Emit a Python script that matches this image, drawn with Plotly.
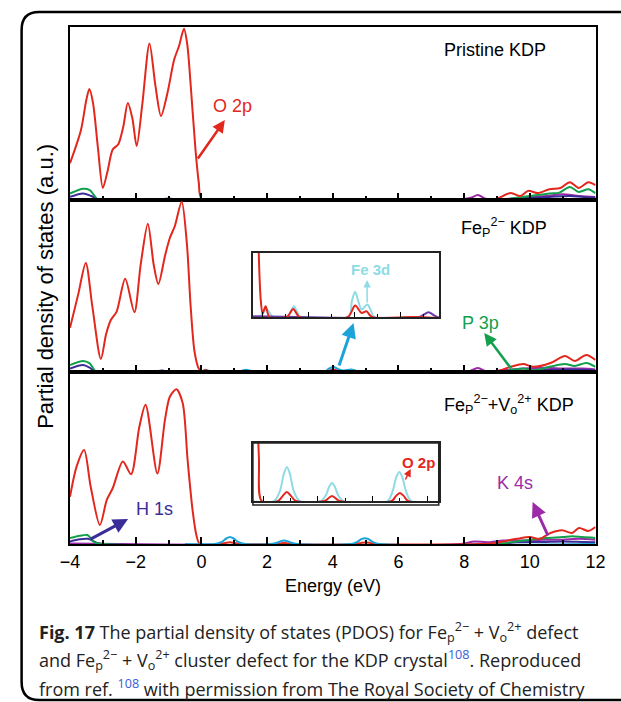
import plotly.graph_objects as go

W, H = 621, 702
def px(x): return x / W
def py(y): return 1 - y / H

RED = "#e2271d"; GREEN = "#12a04c"; INDIGO = "#3b2d98"; PURPLE = "#9c2aa8"
CYAN = "#1ca3da"; CYAN_L = "#8edbe6"

# ---------------- Panel 1: Pristine KDP ----------------
p1_o2p_e = [-4.0, -3.67, -3.5, -3.41, -3.3, -3.15, -3.0, -2.85, -2.70, -2.53, -2.38, -2.24, -2.1, -1.97,
            -1.8, -1.58, -1.4, -1.23, -1.03, -0.83, -0.68, -0.53, -0.43, -0.33, -0.18, -0.08, 0.02,
            2.0, 5.0, 8.8, 9.0, 9.42, 9.71, 9.95, 10.25, 10.6, 10.93, 11.22, 11.49, 11.78, 12.0]
p1_o2p = [0.21, 0.40, 0.58, 0.64, 0.56, 0.30, 0.067, 0.17, 0.29, 0.32, 0.42, 0.56, 0.47, 0.31,
          0.55, 0.905, 0.66, 0.484, 0.62, 0.81, 0.89, 0.99, 0.9, 0.675, 0.29, 0.10, 0.0,
          0.0, 0.0, 0.0, 0.005, 0.038, 0.02, 0.05, 0.037, 0.06, 0.067, 0.10, 0.067, 0.10, 0.084]
p1_p3p_e = [-4.0, -3.6, -3.4, -3.15, -2.9, 9.2, 9.6, 10.0, 10.6, 10.9, 11.22, 11.49, 11.78, 12.0]
p1_p3p = [0.035, 0.062, 0.055, 0.0, 0.0, 0.0, 0.01, 0.02, 0.035, 0.04, 0.073, 0.044, 0.06, 0.037]
p1_h1s_e = [-4.0, -3.6, -3.35, -3.1, -1.3, -1.0, -0.7, 9.5, 10.0, 10.6, 11.2, 11.8, 12.0]
p1_h1s = [0.015, 0.035, 0.02, 0.0, 0.0, 0.006, 0.0, 0.0, 0.01, 0.015, 0.02, 0.012, 0.012]
p1_k4s_e = [-4.0, 7.9, 8.2, 8.42, 8.65, 9.0, 9.5, 10.0, 10.5, 11.0, 11.5, 12.0]
p1_k4s = [0.003, 0.0, 0.01, 0.026, 0.005, 0.0, 0.006, 0.015, 0.02, 0.03, 0.02, 0.015]

# ---------------- Panel 2: Fe_P 2- KDP ----------------
p2_o2p_e = [-4.0, -3.75, -3.52, -3.32, -3.06, -2.9, -2.76, -2.58, -2.32, -2.04, -1.85, -1.63, -1.45,
            -1.31, -1.1, -0.96, -0.81, -0.6, -0.44, -0.33, -0.21, -0.08, 0.0, 0.13, 0.3, 1.05, 1.33,
            1.6, 3.7, 4.02, 4.3, 4.51, 4.75, 6.5, 8.8, 9.0, 9.42, 9.8, 10.1, 10.63, 11.07, 11.37, 11.72, 12.0]
p2_o2p = [0.256, 0.45, 0.632, 0.38, 0.076, 0.22, 0.30, 0.35, 0.54, 0.347, 0.62, 0.86, 0.62,
          0.51, 0.68, 0.777, 0.845, 0.987, 0.74, 0.39, 0.12, 0.02, 0.004, 0.0126, 0.0, 0.0, 0.0094,
          0.0, 0.0, 0.0135, 0.0047, 0.0067, 0.0, 0.0, 0.0, 0.004, 0.03, 0.046, 0.03, 0.052, 0.093, 0.064, 0.099, 0.07]
p2_fe3d_e = [-0.4, -0.13, 0.0, 0.17, 0.32, 0.46, 1.08, 1.22, 1.36, 1.5, 1.64, 3.74, 3.88, 4.02,
             4.16, 4.3, 4.55, 4.7, 4.86, 12.0]
p2_fe3d = [0.0, 0.0, 0.004, 0.0094, 0.004, 0.0, 0.0, 0.006, 0.0126, 0.006, 0.0, 0.0, 0.019, 0.0295,
           0.018, 0.0087, 0.0146, 0.008, 0.0, 0.0]
p2_p3p_e = [-4.0, -3.6, -3.4, -3.2, -2.9, 9.2, 9.4, 9.8, 10.1, 10.6, 11.07, 11.37, 11.72, 12.0]
p2_p3p = [0.04, 0.064, 0.05, 0.0, 0.0, 0.0, 0.01, 0.02, 0.01, 0.03, 0.046, 0.035, 0.052, 0.03]
p2_h1s_e = [-4.0, -3.6, -3.4, -3.2, -1.5, -1.2, -0.9, 9.5, 10.0, 10.6, 11.2, 11.8, 12.0]
p2_h1s = [0.02, 0.04, 0.025, 0.0, 0.0, 0.008, 0.0, 0.0, 0.008, 0.012, 0.015, 0.012, 0.01]
p2_k4s_e = [-4.0, 6.8, 6.95, 7.21, 7.45, 7.6, 8.1, 8.42, 8.7, 9.2, 9.8, 10.5, 11.0, 11.6, 12.0]
p2_k4s = [0.003, 0.0, 0.002, 0.0055, 0.002, 0.0, 0.0, 0.023, 0.0, 0.01, 0.02, 0.025, 0.02, 0.02, 0.015]

# ---------------- Panel 3: Fe_P 2- + V_o 2+ KDP ----------------
p3_o2p_e = [-4.0, -3.8, -3.57, -3.37, -3.09, -2.88, -2.70, -2.39, -2.14, -1.89, -1.70, -1.34, -1.11,
            -0.96, -0.76, -0.57, -0.42, -0.27, -0.15, -0.05, 0.55, 0.72, 0.87, 1.02, 1.2, 2.25, 2.4,
            2.52, 2.64, 2.8, 4.7, 4.86, 5.0, 5.14, 5.3, 8.5, 8.9, 9.6, 10.0, 10.3, 10.63, 10.98, 11.28,
            11.5, 11.78, 12.0]
p3_o2p = [0.275, 0.45, 0.547, 0.333, 0.11, 0.256, 0.324, 0.48, 0.405, 0.68, 0.81, 0.41, 0.72,
          0.856, 0.90, 0.82, 0.49, 0.20, 0.05, 0.0, 0.0, 0.006, 0.0105, 0.006, 0.0, 0.0, 0.0035,
          0.006, 0.0035, 0.0, 0.0, 0.006, 0.0094, 0.006, 0.0, 0.0, 0.005, 0.03, 0.04, 0.03, 0.064, 0.08, 0.064,
          0.093, 0.076, 0.099]
p3_fe3d_e = [-0.5, 0.40, 0.62, 0.76, 0.87, 0.98, 1.12, 1.34, 2.12, 2.3, 2.42, 2.52, 2.62, 2.74, 2.92,
             4.55, 4.73, 4.87, 4.98, 5.09, 5.23, 5.42, 12.0]
p3_fe3d = [0.0, 0.0, 0.012, 0.032, 0.040, 0.032, 0.012, 0.0, 0.0, 0.007, 0.017, 0.021, 0.017, 0.007, 0.0,
           0.0, 0.011, 0.028, 0.034, 0.028, 0.011, 0.0, 0.0]
p3_p3p_e = [-4.0, -3.7, -3.47, -3.25, -3.0, 9.0, 9.6, 10.0, 10.5, 11.0, 11.3, 11.6, 12.0]
p3_p3p = [0.035, 0.048, 0.052, 0.01, 0.0, 0.0, 0.015, 0.025, 0.035, 0.04, 0.045, 0.04, 0.035]
p3_h1s_e = [-4.0, -3.7, -3.45, -3.2, -3.0, 9.0, 9.6, 10.4, 11.0, 11.6, 12.0]
p3_h1s = [0.015, 0.028, 0.03, 0.008, 0.0, 0.0, 0.01, 0.012, 0.015, 0.012, 0.01]
p3_k4s_e = [-4.0, 7.9, 8.3, 8.7, 9.2, 9.8, 10.4, 11.0, 11.5, 12.0]
p3_k4s = [0.003, 0.0, 0.015, 0.01, 0.02, 0.02, 0.025, 0.025, 0.03, 0.025]

panel_titles = ["Pristine KDP",
                "Fe<sub>P</sub><sup>2−</sup> KDP",
                "Fe<sub>P</sub><sup>2−</sup>+V<sub>o</sub><sup>2+</sup> KDP"]
x_ticks = [-4, -2, 0, 2, 4, 6, 8, 10, 12]

FONT = "Liberation Sans, Arial, sans-serif"
fig = go.Figure()

def add(xa, ya, e, v, color, width=2.0):
    fig.add_trace(go.Scatter(x=e, y=v, mode="lines", xaxis=xa, yaxis=ya,
                             line=dict(color=color, width=width, shape="spline", smoothing=0.8),
                             hoverinfo="skip", showlegend=False))

# main panels
add("x", "y", p1_k4s_e, p1_k4s, PURPLE)
add("x", "y", p1_h1s_e, p1_h1s, INDIGO)
add("x", "y", p1_p3p_e, p1_p3p, GREEN)
add("x", "y", p1_o2p_e, p1_o2p, RED)

add("x2", "y2", p2_k4s_e, p2_k4s, PURPLE)
add("x2", "y2", p2_h1s_e, p2_h1s, INDIGO)
add("x2", "y2", p2_p3p_e, p2_p3p, GREEN)
add("x2", "y2", p2_o2p_e, p2_o2p, RED)
add("x2", "y2", p2_fe3d_e, p2_fe3d, CYAN)

add("x3", "y3", p3_k4s_e, p3_k4s, PURPLE)
add("x3", "y3", p3_h1s_e, p3_h1s, INDIGO)
add("x3", "y3", p3_p3p_e, p3_p3p, GREEN)
add("x3", "y3", p3_o2p_e, p3_o2p, RED)
add("x3", "y3", p3_fe3d_e, p3_fe3d, CYAN)

# insets
add("x4", "y4", p2_fe3d_e, p2_fe3d, CYAN_L)
add("x4", "y4", p2_k4s_e, p2_k4s, "#6a3aa8")
add("x4", "y4", p2_o2p_e, p2_o2p, RED)
add("x5", "y5", p3_fe3d_e, p3_fe3d, CYAN_L)
add("x5", "y5", p3_o2p_e, p3_o2p, RED)

L, R = px(62), px(605)
def xax(show_labels, anchor):
    return dict(domain=[L, R], anchor=anchor, range=[-4, 12], tickvals=x_ticks,
                ticks="inside", ticklen=7, tickwidth=1.5, tickcolor="black",
                minor=dict(dtick=1, tick0=0, ticks="inside", ticklen=4, tickwidth=1.5, tickcolor="black"),
                showline=True, mirror=True, linecolor="black", linewidth=2,
                showgrid=False, zeroline=False, showticklabels=show_labels,
                tickfont=dict(family=FONT, size=18, color="black"))
def yax(y0, y1, anchor, rng):
    return dict(domain=[py(y1), py(y0)], anchor=anchor, range=rng, showline=True, mirror=True,
                linecolor="black", linewidth=2, showgrid=False, zeroline=False,
                showticklabels=False, ticks="")

def inset_x(rng, ymin_anchor):
    return dict(domain=[px(251), px(443)], anchor=ymin_anchor, range=rng, tickvals=[0, 2, 4, 6],
                ticks="inside", ticklen=5, tickwidth=1.2, tickcolor="black",
                minor=dict(dtick=1, tick0=0, ticks="inside", ticklen=3, tickwidth=1.2, tickcolor="black"),
                showline=True, mirror=True, linecolor="#222", linewidth=1.5,
                showgrid=False, zeroline=False, showticklabels=False)

fig.update_layout(
    width=W, height=H, margin=dict(l=0, r=0, t=0, b=0),
    paper_bgcolor="white", plot_bgcolor="white", showlegend=False,
    xaxis=xax(False, "y"), yaxis=yax(27, 199.5, "x", [0, 1.0]),
    xaxis2=xax(False, "y2"), yaxis2=yax(199.5, 372, "x2", [0, 1.0]),
    xaxis3=xax(True, "y3"), yaxis3=yax(372, 544, "x3", [0, 1.0]),
    xaxis4=inset_x([-0.42, 7.65], "y4"),
    yaxis4=dict(domain=[py(317), py(253)], anchor="x4", range=[0, 0.075], showline=True, mirror=True,
                linecolor="#222", linewidth=1.5, showgrid=False, zeroline=False, showticklabels=False),
    xaxis5=inset_x([-0.37, 6.42], "y5"),
    yaxis5=dict(domain=[py(501), py(443)], anchor="x5", range=[0, 0.068], showline=True, mirror=True,
                linecolor="#222", linewidth=1.5, showgrid=False, zeroline=False, showticklabels=False),
)

# outer rounded frame
r = 18
x0, y0, y1 = 12, 12, 700
def P(x, y): return f"{px(x):.5f},{py(y):.5f}"
path = (f"M {P(640, y0)} L {P(x0 + r, y0)} Q {P(x0, y0)} {P(x0, y0 + r)} "
        f"L {P(x0, y1 - r)} Q {P(x0, y1)} {P(x0 + r, y1)} L {P(640, y1)}")
shapes = [dict(type="path", xref="paper", yref="paper", path=path,
               line=dict(color="black", width=2.5)),
          dict(type="rect", xref="paper", yref="paper", x0=px(251), x1=px(443), y0=py(505), y1=py(443),
               line=dict(color="#222", width=1.5))]
fig.update_layout(shapes=shapes)

ann = []
def text(x, y, s, color="black", size=18, bold=False, xanchor="center"):
    if bold:
        s = f"<b>{s}</b>"
    ann.append(dict(x=px(x), y=py(y), xref="paper", yref="paper", text=s, showarrow=False,
                    xanchor=xanchor, yanchor="middle", font=dict(family=FONT, size=size, color=color)))
def arrow(tx, ty, hx, hy, color, width=2.5, size=1.0):
    ann.append(dict(x=px(hx), y=py(hy), xref="paper", yref="paper", ax=tx - hx, ay=ty - hy,
                    axref="pixel", ayref="pixel", text="", showarrow=True, arrowhead=2,
                    arrowsize=size, arrowwidth=width, arrowcolor=color, standoff=0, startstandoff=0))

text(501, 50, panel_titles[0])
text(510, 228, panel_titles[1])
text(516, 405, panel_titles[2])

text(230, 106, "O 2p", RED)
arrow(194, 160, 222, 120, RED)
text(373, 269, "Fe 3d", CYAN_L, size=15, bold=True)
arrow(369, 304, 369, 280, CYAN_L, width=1.5, size=1.0)
arrow(340, 367, 355, 323, CYAN, width=3)
text(486, 323, "P 3p", GREEN)
arrow(518, 370, 490, 333, GREEN)
text(422, 462, "O 2p", RED, size=15, bold=True)
arrow(408, 481, 414, 469, RED, width=1.5, size=1.0)
text(522, 483, "K 4s", PURPLE)
arrow(556, 537, 540, 502, PURPLE, width=3)
text(149, 509, "H 1s", INDIGO)
arrow(83, 540, 122, 519, INDIGO, width=3)

text(334, 586, "Energy (eV)", size=18)
ann.append(dict(x=px(36), y=py(286), xref="paper", yref="paper", text="Partial density of states (a.u.)",
                textangle=-90, showarrow=False, xanchor="center", yanchor="middle",
                font=dict(family=FONT, size=22, color="black")))

CAP = "Open Sans, sans-serif"
cap_lines = [
    "<b>Fig. 17</b> The partial density of states (PDOS) for Fe<sub>p</sub><sup>2−</sup> + V<sub>o</sub><sup>2+</sup> defect",
    "and Fe<sub>p</sub><sup>2−</sup> + V<sub>o</sub><sup>2+</sup> cluster defect for the KDP crystal<sup><span style='color:#3b5bdb'>108</span></sup>. Reproduced",
    "from ref. <sup><span style='color:#3b5bdb'>108</span></sup> with permission from The Royal Society of Chemistry",
]
for i, s in enumerate(cap_lines):
    ann.append(dict(x=px(28), y=py(632 + 28 * i), xref="paper", yref="paper", text=s, showarrow=False,
                    xanchor="left", yanchor="middle", font=dict(family=CAP, size=18, color="#222")))

fig.update_layout(annotations=ann)
fig.write_html("out.html")
